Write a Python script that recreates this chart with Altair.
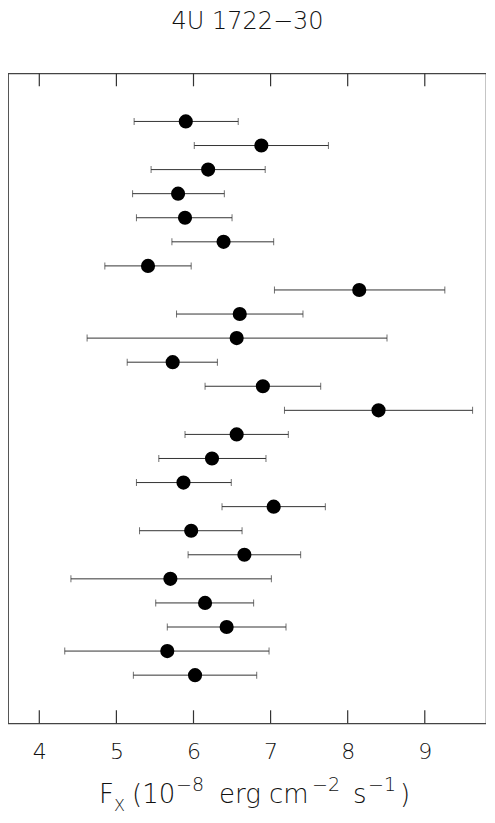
import altair as alt
import pandas as pd

# ---- data ----
burst_index = list(range(1, 25))
flux = [5.90, 6.88, 6.19, 5.80, 5.89, 6.39, 5.41, 8.15, 6.60, 6.56, 5.73, 6.90,
        8.40, 6.56, 6.24, 5.87, 7.04, 5.97, 6.66, 5.70, 6.15, 6.43, 5.66, 6.02]
flux_lo = [5.23, 6.01, 5.45, 5.21, 5.26, 5.72, 4.85, 7.05, 5.78, 4.62, 5.14, 6.15,
           7.18, 5.89, 5.55, 5.26, 6.37, 5.30, 5.93, 4.41, 5.51, 5.66, 4.33, 5.22]
flux_hi = [6.58, 7.75, 6.93, 6.40, 6.50, 7.04, 5.97, 9.26, 7.42, 8.51, 6.31, 7.65,
           9.62, 7.23, 6.94, 6.49, 7.71, 6.63, 7.39, 7.01, 6.78, 7.20, 6.98, 6.82]
tick_values = [4, 5, 6, 7, 8, 9]
title_text = "4U 1722\u221230"

df = pd.DataFrame({"i": burst_index, "f": flux, "lo": flux_lo, "hi": flux_hi})
ticks_df = pd.DataFrame({"t": tick_values})

W, H = 478, 650
FONT = "DejaVu Sans"
INK = "#111"
LINE = "#333"

xs = alt.Scale(domain=[3.594, 9.794], nice=False, zero=False)
ys = alt.Scale(domain=[-1, 26], reverse=True, nice=False, zero=False)
xaxis = alt.Axis(values=tick_values, ticks=False, domain=False, grid=False,
                 labelFontSize=22, labelFont=FONT, labelColor=INK,
                 labelFontWeight=200, labelPadding=35,
                 labelBaseline="alphabetic", title=None)

base = alt.Chart(df)

bars = base.mark_rule(color=LINE, strokeWidth=1).encode(
    x=alt.X("lo:Q", scale=xs, axis=xaxis),
    x2="hi:Q",
    y=alt.Y("i:Q", scale=ys, axis=None),
)
cap_lo = base.mark_tick(orient="vertical", size=7, thickness=1, color=LINE).encode(
    x=alt.X("lo:Q", scale=xs, axis=xaxis),
    y=alt.Y("i:Q", scale=ys, axis=None),
)
cap_hi = base.mark_tick(orient="vertical", size=7, thickness=1, color=LINE).encode(
    x=alt.X("hi:Q", scale=xs, axis=xaxis),
    y=alt.Y("i:Q", scale=ys, axis=None),
)
points = base.mark_circle(size=200, color="black", opacity=1).encode(
    x=alt.X("f:Q", scale=xs, axis=xaxis),
    y=alt.Y("i:Q", scale=ys, axis=None),
)

tick_base = alt.Chart(ticks_df)
ticks_bottom = tick_base.mark_rule(color=LINE, strokeWidth=1.2).encode(
    x=alt.X("t:Q", scale=xs, axis=xaxis),
    y=alt.value(H), y2=alt.value(H - 13),
)
ticks_top = tick_base.mark_rule(color=LINE, strokeWidth=1.2).encode(
    x=alt.X("t:Q", scale=xs, axis=xaxis),
    y=alt.value(0), y2=alt.value(13),
)


def label(text, x, y, size, align="left"):
    return alt.Chart(pd.DataFrame({"s": [text]})).mark_text(
        font=FONT, fontSize=size, fontWeight=200, color=INK,
        align=align, baseline="alphabetic",
    ).encode(text="s:N", x=alt.value(x), y=alt.value(y))


title = label(title_text, 239.5, -44, 24, align="center")

BL = 729.5      # main baseline of the x-axis title (plot coords)
SUP = BL - 11.5
SUB = BL + 8
OX = -6         # page -> plot x offset
parts = [
    label("F", 97 + OX, BL, 26),
    label("X", 112 + OX, SUB, 16),
    label("(10", 130 + OX, BL, 26),
    label("\u22128", 174 + OX, SUP, 19),
    label("erg cm", 217 + OX, BL, 26),
    label("\u22122", 310 + OX, SUP, 19),
    label("s", 351 + OX, BL, 26),
    label("\u22121", 366 + OX, SUP, 19),
    label(")", 398 + OX, BL, 26),
]

chart = alt.layer(
    bars, cap_lo, cap_hi, points, ticks_bottom, ticks_top, title, *parts
).properties(
    width=W, height=H,
    autosize=alt.AutoSizeParams(type="none"),
    padding={"left": 0, "top": 65.3, "right": 0, "bottom": 90},
).configure_view(
    stroke="#444", strokeWidth=1.2
)

chart.save("out.html", embed_options={"renderer": "svg", "actions": False})
